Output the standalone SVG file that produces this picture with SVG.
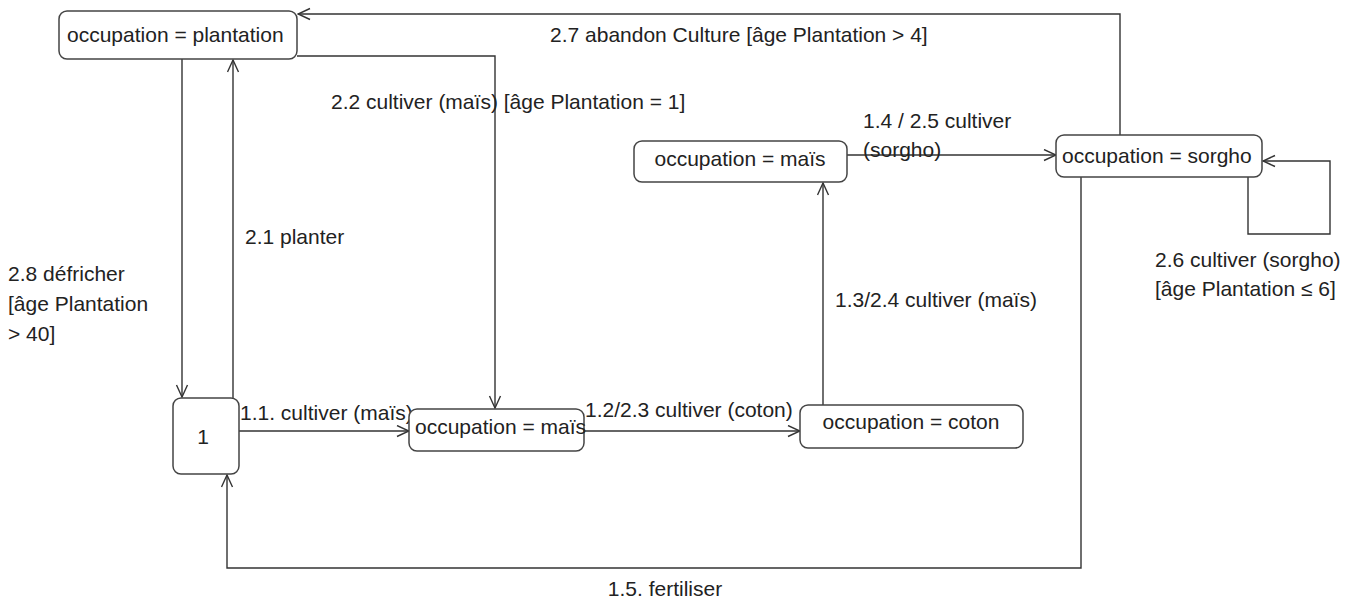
<svg xmlns="http://www.w3.org/2000/svg" width="1351" height="601" viewBox="0 0 1351 601">
<style>
text { font-family: "Liberation Sans", Arial, sans-serif; font-size: 21px; fill: #222; }
.node rect { fill: #fff; stroke: #444; stroke-width: 1.5; }
.conn { fill: none; stroke: #333; stroke-width: 1.4; marker-end: url(#arr); }
</style>
<defs>
<marker id="arr" markerUnits="userSpaceOnUse" markerWidth="14" markerHeight="14" refX="13" refY="6.5" orient="auto">
<path d="M1,1 L13,6.5 L1,12" fill="none" stroke="#333" stroke-width="1.4"/>
</marker>
</defs>
<rect width="1351" height="601" fill="#fff"/>
<g id="connectors">
<polyline class="conn" points="1120,135 1120,14 298,14"/>
<polyline class="conn" points="297,56 495,56 495,408"/>
<polyline class="conn" points="182,59 182,397"/>
<polyline class="conn" points="233,398 233,60"/>
<polyline class="conn" points="239,431 409,431"/>
<polyline class="conn" points="584,431 800,431"/>
<polyline class="conn" points="823,405 823,183"/>
<polyline class="conn" points="847,155 1056,155"/>
<polyline class="conn" points="1248,177 1248,234 1330,234 1330,161 1263,161"/>
<polyline class="conn" points="1081,177 1081,568 227,568 227,475"/>
</g>
<g id="labels">
<text x="550" y="42">2.7 abandon Culture [âge Plantation &gt; 4]</text>
<text x="331" y="109">2.2 cultiver (maïs) [âge Plantation = 1]</text>
<text x="245" y="244">2.1 planter</text>
<text x="8" y="281">2.8 défricher</text>
<text x="8" y="311">[âge Plantation</text>
<text x="8" y="341">&gt; 40]</text>
<text x="863" y="128">1.4 / 2.5 cultiver</text>
<text x="863" y="157">(sorgho)</text>
<text x="835" y="307">1.3/2.4 cultiver (maïs)</text>
<text x="1155" y="267">2.6 cultiver (sorgho)</text>
<text x="1155" y="296">[âge Plantation ≤ 6]</text>
<text x="240" y="420">1.1. cultiver (maïs)</text>
<text x="585" y="417">1.2/2.3 cultiver (coton)</text>
<text x="665" y="596" text-anchor="middle">1.5. fertiliser</text>
</g>
<g id="n-plantation" class="node">
<rect x="59" y="11" width="238" height="48" rx="8"/>
<text x="67" y="42">occupation = plantation</text>
</g>
<g id="n-mais-haut" class="node">
<rect x="634" y="141" width="213" height="41" rx="8"/>
<text x="740" y="166" text-anchor="middle">occupation = maïs</text>
</g>
<g id="n-sorgho" class="node">
<rect x="1056" y="135" width="206" height="42" rx="8"/>
<text x="1062" y="163">occupation = sorgho</text>
</g>
<g id="n-1" class="node">
<rect x="173" y="398" width="66" height="76" rx="8"/>
<text x="203" y="444" text-anchor="middle">1</text>
</g>
<g id="n-mais-bas" class="node">
<rect x="409" y="409" width="175" height="42" rx="8"/>
<text x="415" y="434">occupation = maïs</text>
</g>
<g id="n-coton" class="node">
<rect x="800" y="405" width="223" height="43" rx="8"/>
<text x="911" y="429" text-anchor="middle">occupation = coton</text>
</g>
</svg>
